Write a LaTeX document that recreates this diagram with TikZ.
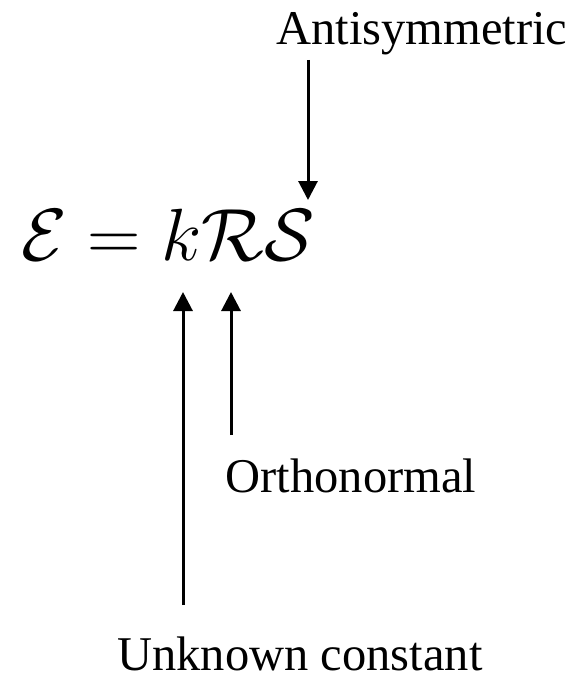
\RequirePackage{fix-cm}
\documentclass[tikz,border=0pt]{standalone}
\usepackage{amsmath}
\usepackage{fontspec}
\newfontfamily\labelfont{Liberation Serif}
\usetikzlibrary{positioning,arrows.meta}

\begin{document}
\begin{tikzpicture}[x=1pt, y=-1pt,
      lbl/.style={anchor=base, inner sep=0pt, font=\labelfont\fontsize{48.5}{58}\selectfont},
      eqn/.style={anchor=base west, inner sep=0pt, font=\fontsize{74}{86}\selectfont},
      ptr/.style={-{Triangle[length=19pt, width=19pt]}, line width=3pt},
    ]
    \useasboundingbox (0,0) rectangle (579,695);

    % equation
    \node[eqn] (eq) at (21,260) {$\mathcal{E} = k\mathcal{R}\mathcal{S}$};

    % labels
    \node[lbl] (anti) at (422,45) {Antisymmetric};
    \node[lbl] (ortho) at (351,492) {Orthonormal};
    \node[lbl] (unk) at (300,670) {Unknown constant};

    % arrow ends
    \coordinate (sTop) at (308,60);
    \coordinate (sTip) at (308,200);
    \coordinate (rBot) at (231,435);
    \coordinate (rTip) at (231,292);
    \coordinate (kBot) at (183,605);
    \coordinate (kTip) at (183,292);

    \draw[ptr] (sTop) -- (sTip);
    \draw[ptr] (rBot) -- (rTip);
    \draw[ptr] (kBot) -- (kTip);
  \end{tikzpicture}
\end{document}
